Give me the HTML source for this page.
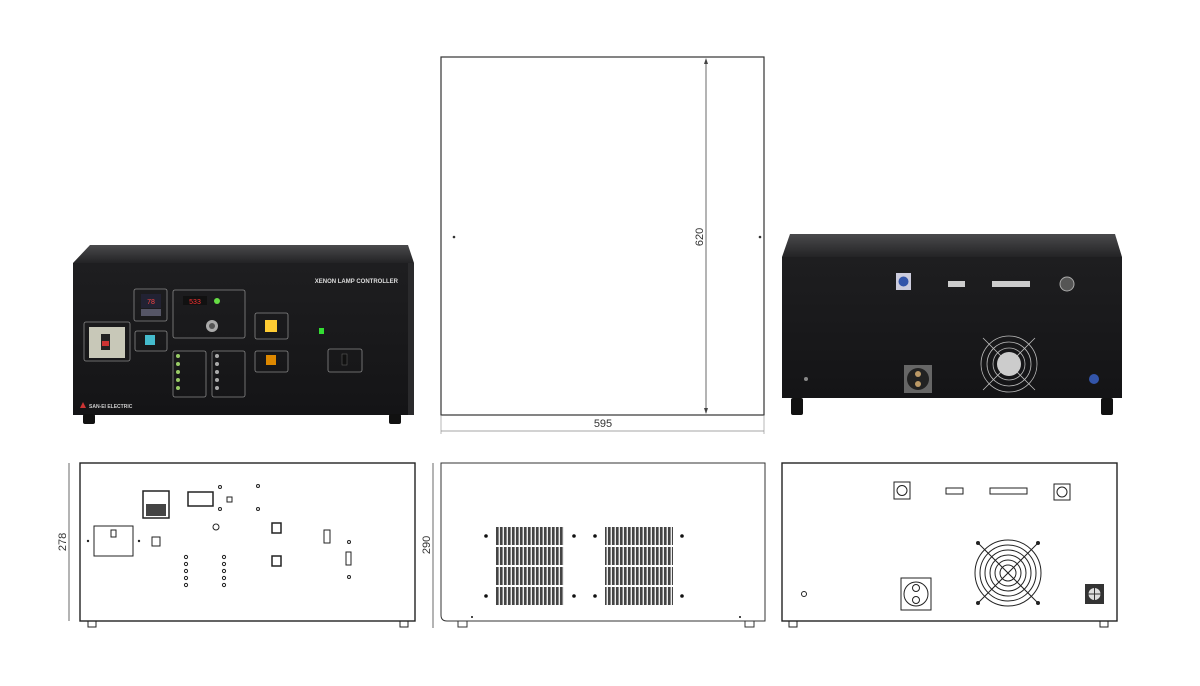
<!DOCTYPE html>
<html><head><meta charset="utf-8"><style>
html,body{margin:0;padding:0;background:#fff;}
svg{display:block;font-family:"Liberation Sans",sans-serif;}
</style></head><body>
<svg width="1200" height="686" viewBox="0 0 1200 686" xmlns="http://www.w3.org/2000/svg">
<defs>
<linearGradient id="topg" x1="0" y1="0" x2="0" y2="1"><stop offset="0" stop-color="#4a4a4c"/><stop offset="1" stop-color="#232325"/></linearGradient>
<linearGradient id="frontg" x1="0" y1="0" x2="0" y2="1"><stop offset="0" stop-color="#1e1e20"/><stop offset="1" stop-color="#141416"/></linearGradient>
<pattern id="vent" x="0" y="0" width="4" height="20" patternUnits="userSpaceOnUse">
<rect width="4" height="20" fill="#eee"/><rect x="0" width="2.6" height="20" fill="#444"/>
</pattern>
</defs>
<rect width="1200" height="686" fill="#fff"/>

<!-- TOP VIEW -->
<rect x="441" y="57" width="323" height="358" fill="#fff" stroke="#333" stroke-width="1.2"/>
<line x1="706" y1="60" x2="706" y2="413" stroke="#444" stroke-width="0.8"/>
<path d="M704,64 L706,58 L708,64 Z M704,408 L706,414 L708,408 Z" fill="#444"/>
<text x="0" y="0" transform="translate(703,237) rotate(-90)" font-size="11" text-anchor="middle" fill="#333">620</text>
<circle cx="454" cy="237" r="1.3" fill="#333"/><circle cx="760" cy="237" r="1.3" fill="#333"/>
<line x1="441" y1="416" x2="441" y2="434" stroke="#999" stroke-width="0.7"/>
<line x1="764" y1="416" x2="764" y2="434" stroke="#999" stroke-width="0.7"/>
<line x1="441" y1="431" x2="764" y2="431" stroke="#888" stroke-width="0.7"/>
<text x="603" y="427" font-size="11" text-anchor="middle" fill="#333">595</text>

<!-- FRONT PHOTO -->
<polygon points="90,245 408,245 414,263 73,263" fill="url(#topg)"/>
<rect x="73" y="263" width="339" height="152" fill="url(#frontg)"/>
<rect x="408" y="263" width="6" height="152" fill="#2a2a2c"/>
<rect x="83" y="414" width="12" height="10" rx="2" fill="#111"/>
<rect x="389" y="414" width="12" height="10" rx="2" fill="#111"/>
<text x="398" y="283" font-size="6" font-weight="bold" fill="#ddd" text-anchor="end">XENON LAMP CONTROLLER</text>
<polygon points="80,408 83,402 86,408" fill="#c33"/>
<text x="89" y="408" font-size="5" font-weight="bold" fill="#ccc">SAN-EI ELECTRIC</text>
<g fill="none" stroke="#888" stroke-width="0.8">
<rect x="134" y="289" width="33" height="32" rx="2"/>
<rect x="173" y="290" width="72" height="48" rx="2"/>
<rect x="84" y="322" width="46" height="39" rx="2"/>
<rect x="135" y="331" width="32" height="20" rx="2"/>
<rect x="173" y="351" width="33" height="46" rx="2"/>
<rect x="212" y="351" width="33" height="46" rx="2"/>
<rect x="255" y="313" width="33" height="26" rx="2"/>
<rect x="255" y="351" width="33" height="21" rx="2"/>
<rect x="328" y="349" width="34" height="23" rx="2"/>
</g>
<rect x="141" y="294" width="20" height="14" fill="#223"/>
<text x="151" y="304" font-size="7" fill="#f44" text-anchor="middle">78</text>
<rect x="141" y="309" width="20" height="7" fill="#556"/>
<rect x="89" y="327" width="36" height="31" fill="#c8c8b8"/>
<rect x="101" y="334" width="9" height="16" fill="#222"/><rect x="102" y="341" width="7" height="5" fill="#c33"/>
<rect x="145" y="335" width="10" height="10" fill="#4bc"/>
<rect x="183" y="296" width="24" height="9" fill="#111"/>
<text x="195" y="304" font-size="7" fill="#f33" text-anchor="middle">533</text>
<circle cx="217" cy="301" r="3" fill="#6d4"/>
<circle cx="212" cy="326" r="6" fill="#aaa"/><circle cx="212" cy="326" r="3" fill="#555"/>
<rect x="265" y="320" width="12" height="12" fill="#fc3"/>
<rect x="266" y="355" width="10" height="10" fill="#d80"/>
<rect x="319" y="328" width="5" height="6" fill="#3d3"/>
<rect x="342" y="354" width="5" height="11" fill="#111" stroke="#666" stroke-width="0.5"/>
<g fill="#9c6"><circle cx="178" cy="356" r="2"/><circle cx="178" cy="364" r="2"/><circle cx="178" cy="372" r="2"/><circle cx="178" cy="380" r="2"/><circle cx="178" cy="388" r="2"/></g>
<g fill="#aaa"><circle cx="217" cy="356" r="2"/><circle cx="217" cy="364" r="2"/><circle cx="217" cy="372" r="2"/><circle cx="217" cy="380" r="2"/><circle cx="217" cy="388" r="2"/></g>

<!-- REAR PHOTO -->
<polygon points="790,234 1115,234 1122,257 782,257" fill="url(#topg)"/>
<rect x="782" y="257" width="340" height="141" fill="url(#frontg)"/>
<rect x="791" y="398" width="12" height="17" rx="2" fill="#111"/>
<rect x="1101" y="398" width="12" height="17" rx="2" fill="#111"/>
<rect x="896" y="273" width="15" height="17" fill="#ccd"/><circle cx="903.5" cy="281.5" r="5" fill="#35a"/>
<rect x="948" y="281" width="17" height="6" fill="#ccc"/>
<rect x="992" y="281" width="38" height="6" fill="#ccc"/>
<circle cx="1067" cy="284" r="7" fill="#555" stroke="#aaa" stroke-width="1"/>
<g fill="none" stroke="#bbb" stroke-width="0.8">
<circle cx="1009" cy="364" r="28"/><circle cx="1009" cy="364" r="22"/><circle cx="1009" cy="364" r="16"/>
<line x1="983" y1="338" x2="1035" y2="390"/><line x1="1035" y1="338" x2="983" y2="390"/>
</g>
<circle cx="1009" cy="364" r="12" fill="#ccc"/>
<rect x="904" y="365" width="28" height="28" fill="#666"/><circle cx="918" cy="379" r="11" fill="#222"/>
<circle cx="918" cy="374" r="3" fill="#b96"/><circle cx="918" cy="384" r="3" fill="#b96"/>
<circle cx="1094" cy="379" r="5" fill="#35a"/>
<circle cx="806" cy="379" r="2" fill="#888"/>

<!-- FRONT DRAWING -->
<line x1="69" y1="463" x2="69" y2="621" stroke="#444" stroke-width="0.8"/>
<text transform="translate(66,542) rotate(-90)" font-size="11" text-anchor="middle" fill="#333">278</text>
<rect x="80" y="463" width="335" height="158" fill="#fff" stroke="#222" stroke-width="1.4"/>
<g fill="none" stroke="#222" stroke-width="1">
<rect x="88" y="621" width="8" height="6"/><rect x="400" y="621" width="8" height="6"/>
<rect x="143" y="491" width="26" height="27" stroke-width="1.5"/>
<rect x="188" y="492" width="25" height="14" stroke-width="1.5"/>
<rect x="227" y="497" width="5" height="5"/>
<rect x="94" y="526" width="39" height="30"/>
<rect x="111" y="530" width="5" height="7"/>
<rect x="152" y="537" width="8" height="9"/>
<rect x="272" y="523" width="9" height="10" stroke-width="1.5"/>
<rect x="272" y="556" width="9" height="10" stroke-width="1.5"/>
<rect x="324" y="530" width="6" height="13"/>
<rect x="346" y="552" width="5" height="13"/>
<circle cx="220" cy="487" r="1.5"/><circle cx="220" cy="509" r="1.5"/>
<circle cx="258" cy="486" r="1.5"/><circle cx="258" cy="509" r="1.5"/>
<circle cx="349" cy="542" r="1.5"/><circle cx="349" cy="577" r="1.5"/>
<circle cx="216" cy="527" r="3"/>
<circle cx="186" cy="557" r="1.6"/><circle cx="186" cy="564" r="1.6"/><circle cx="186" cy="571" r="1.6"/><circle cx="186" cy="578" r="1.6"/><circle cx="186" cy="585" r="1.6"/>
<circle cx="224" cy="557" r="1.6"/><circle cx="224" cy="564" r="1.6"/><circle cx="224" cy="571" r="1.6"/><circle cx="224" cy="578" r="1.6"/><circle cx="224" cy="585" r="1.6"/>
</g>
<rect x="146" y="504" width="20" height="12" fill="#444"/>
<circle cx="88" cy="541" r="1.2" fill="#222"/><circle cx="139" cy="541" r="1.2" fill="#222"/>

<!-- SIDE DRAWING -->
<line x1="433" y1="463" x2="433" y2="628" stroke="#444" stroke-width="0.8"/>
<text transform="translate(430,545) rotate(-90)" font-size="11" text-anchor="middle" fill="#333">290</text>
<path d="M441,463 L765,463 L765,621 L447,621 Q441,621 441,615 Z" fill="#fff" stroke="#333" stroke-width="1"/>
<rect x="458" y="621" width="9" height="6" fill="none" stroke="#333"/><rect x="745" y="621" width="9" height="6" fill="none" stroke="#333"/>
<g fill="url(#vent)">
<rect x="496" y="527" width="68" height="18"/><rect x="496" y="547" width="68" height="18"/><rect x="496" y="567" width="68" height="18"/><rect x="496" y="587" width="68" height="18"/>
<rect x="605" y="527" width="68" height="18"/><rect x="605" y="547" width="68" height="18"/><rect x="605" y="567" width="68" height="18"/><rect x="605" y="587" width="68" height="18"/>
</g>
<g fill="#111"><circle cx="486" cy="536" r="1.8"/><circle cx="574" cy="536" r="1.8"/><circle cx="595" cy="536" r="1.8"/><circle cx="682" cy="536" r="1.8"/>
<circle cx="486" cy="596" r="1.8"/><circle cx="574" cy="596" r="1.8"/><circle cx="595" cy="596" r="1.8"/><circle cx="682" cy="596" r="1.8"/>
<circle cx="472" cy="617" r="1"/><circle cx="740" cy="617" r="1"/></g>

<!-- REAR DRAWING -->
<rect x="782" y="463" width="335" height="158" fill="#fff" stroke="#222" stroke-width="1.4"/>
<g fill="none" stroke="#222" stroke-width="1">
<rect x="789" y="621" width="8" height="6"/><rect x="1100" y="621" width="8" height="6"/>
<rect x="894" y="482" width="16" height="17"/><circle cx="902" cy="490.5" r="5"/>
<rect x="1054" y="484" width="16" height="16"/><circle cx="1062" cy="492" r="5"/>
<rect x="946" y="488" width="17" height="6"/>
<rect x="990" y="488" width="37" height="6"/>
<rect x="901" y="578" width="30" height="32"/><circle cx="916" cy="594" r="12"/>
<circle cx="916" cy="588" r="3.5"/><circle cx="916" cy="600" r="3.5"/>
<circle cx="804" cy="594" r="2.5"/>
<circle cx="1008" cy="573" r="33"/><circle cx="1008" cy="573" r="28"/><circle cx="1008" cy="573" r="23"/><circle cx="1008" cy="573" r="18"/><circle cx="1008" cy="573" r="13"/><circle cx="1008" cy="573" r="8"/>
<line x1="978" y1="543" x2="1038" y2="603"/><line x1="1038" y1="543" x2="978" y2="603"/>
</g>
<rect x="1085" y="584" width="19" height="20" fill="#333"/><circle cx="1094.5" cy="594" r="6" fill="#ddd"/>
<path d="M1088.5,594 H1100.5 M1094.5,588 V600" stroke="#333" stroke-width="1"/>
<g fill="#222"><circle cx="978" cy="543" r="2"/><circle cx="1038" cy="543" r="2"/><circle cx="978" cy="603" r="2"/><circle cx="1038" cy="603" r="2"/></g>
</svg>
</body></html>
